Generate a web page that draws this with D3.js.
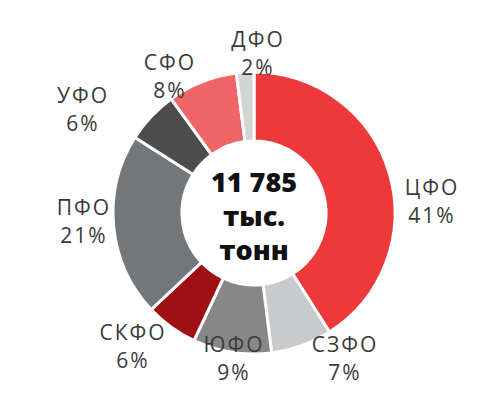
<!DOCTYPE html>
<html>
<head>
<meta charset="utf-8">
<script src="https://cdn.jsdelivr.net/npm/d3@7/dist/d3.min.js"></script>
<style>
  body { margin: 0; background: #fff; }
  text { font-family: "Open Sans", "DejaVu Sans", sans-serif; }
</style>
</head>
<body>
<div id="chart"></div>
<script>
// Districts, clockwise from 12 o'clock
const districts = ["ЦФО", "СЗФО", "ЮФО", "СКФО", "ПФО", "УФО", "СФО", "ДФО"];
const shares = [41, 7, 9, 6, 21, 6, 8, 2];
const colors = ["#ee393b", "#c9cacc", "#878787", "#a00f14", "#74777a", "#4d4d4d", "#f06367", "#d4d4d4"];
// label anchor points (centre of the two-line label)
const labelPos = [[431, 202], [344, 359], [233, 359], [132, 347], [83, 222], [82, 110], [169, 77], [257, 54]];
const centerLines = ["11 785", "тыс.", "тонн"];

const W = 480, H = 399;
const cx = 254, cy = 213;
const rOuter = 141, rInner = 72;

const svg = d3.select("#chart").append("svg")
  .attr("width", W)
  .attr("height", H);

const g = svg.append("g").attr("transform", `translate(${cx},${cy})`);

const pie = d3.pie().sort(null).value(d => d);
const arc = d3.arc().innerRadius(rInner).outerRadius(rOuter);

g.selectAll("path")
  .data(pie(shares))
  .join("path")
  .attr("d", arc)
  .attr("fill", (d, i) => colors[i])
  .attr("stroke", "#fff")
  .attr("stroke-width", 3);

// outside labels
const lab = svg.append("g");
districts.forEach((name, i) => {
  const [x, y] = labelPos[i];
  const t = lab.append("text")
    .attr("text-anchor", "middle")
    .attr("fill", "#3a3a3a")
    .style("font-size", "21px")
    .style("letter-spacing", "2px");
  t.append("tspan").attr("x", x + 1).attr("y", y - 7).text(name);
  t.append("tspan").attr("x", x + 1).attr("y", y + 21).text(shares[i] + "%");
});

// centre total
centerLines.forEach((s, i) => {
  g.append("text")
    .attr("x", 0)
    .attr("y", -21 + i * 34)
    .attr("text-anchor", "middle")
    .attr("fill", "#111")
    .style("font-size", "27px")
    .style("font-weight", "800")
    .text(s);
});
</script>
</body>
</html>
